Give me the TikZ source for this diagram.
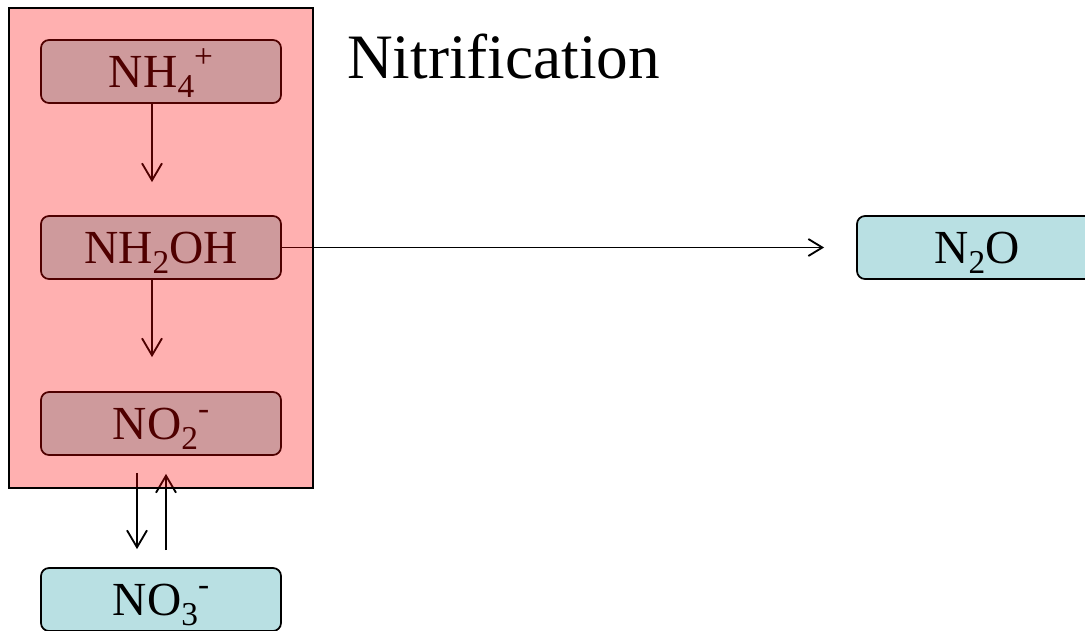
\documentclass[tikz,border=0pt]{standalone}
\usepackage{fontspec}
\setmainfont{Liberation Serif}
\usetikzlibrary{arrows.meta}

\definecolor{pool}{HTML}{B9E0E3}

% lowered and raised charges/counts in formulas
\newcommand{\chsub}[1]{\raisebox{-0.22em}{\fontsize{19}{20}\selectfont #1}}
\newcommand{\chsup}[1]{\raisebox{0.42em}{\fontsize{19}{20}\selectfont #1}}

\tikzset{
  species/.style={draw=black, line width=1pt, fill=pool, rounded corners=0.16cm,
    minimum width=4.8cm, minimum height=1.26cm, inner sep=0pt,
    text height=0.64cm, text depth=0pt, font=\fontsize{27}{30}\selectfont},
  flow/.style={-{Straight Barb[length=0.34cm, width=0.4cm]}, line width=1.05pt},
}

\begin{document}
\begin{tikzpicture}
\useasboundingbox (0, 0) rectangle (21.7, 12.6);
\clip (0, 0) rectangle (21.7, 12.6);

% Title
\node[anchor=base west, font=\fontsize{36}{40}\selectfont] (title) at (6.82, 11.04) {Nitrification};

% Nitrogen species
\node[species] (nh4) at (3.22, 11.17) {NH\chsub{4}\chsup{+}};
\node[species] (nh2oh) at (3.22, 7.65) {NH\chsub{2}OH};
\node[species] (no2) at (3.22, 4.13) {NO\chsub{2}\chsup{-}};
\node[species] (no3) at (3.22, 0.61) {NO\chsub{3}\chsup{-}};
\node[species] (n2o) at (19.54, 7.65) {N\chsub{2}O};

% Reactions
\draw[flow, shorten >=0.66cm] ([xshift=-0.18cm]nh4.south) -- ([xshift=-0.18cm]nh2oh.north);
\draw[flow, shorten >=0.68cm] ([xshift=-0.18cm]nh2oh.south) -- ([xshift=-0.18cm]no2.north);
\draw[-{Straight Barb[length=0.28cm, width=0.34cm]}, line width=1.05pt, shorten >=0.64cm] (nh2oh.east) -- (n2o.west);

\draw[flow, shorten <=0.34cm, shorten >=0.36cm] ([xshift=-0.48cm]no2.south) -- ([xshift=-0.48cm]no3.north);
\draw[flow, shorten <=0.34cm, shorten >=0.36cm] ([xshift=0.10cm]no3.north) -- ([xshift=0.10cm]no2.south);

% Tinted frame over the nitrification steps
\node[draw=black, line width=1.5pt, fill=red, fill opacity=0.31,
  minimum width=6.08cm, minimum height=9.6cm] (zone) at (3.22, 7.64) {};

\end{tikzpicture}
\end{document}
